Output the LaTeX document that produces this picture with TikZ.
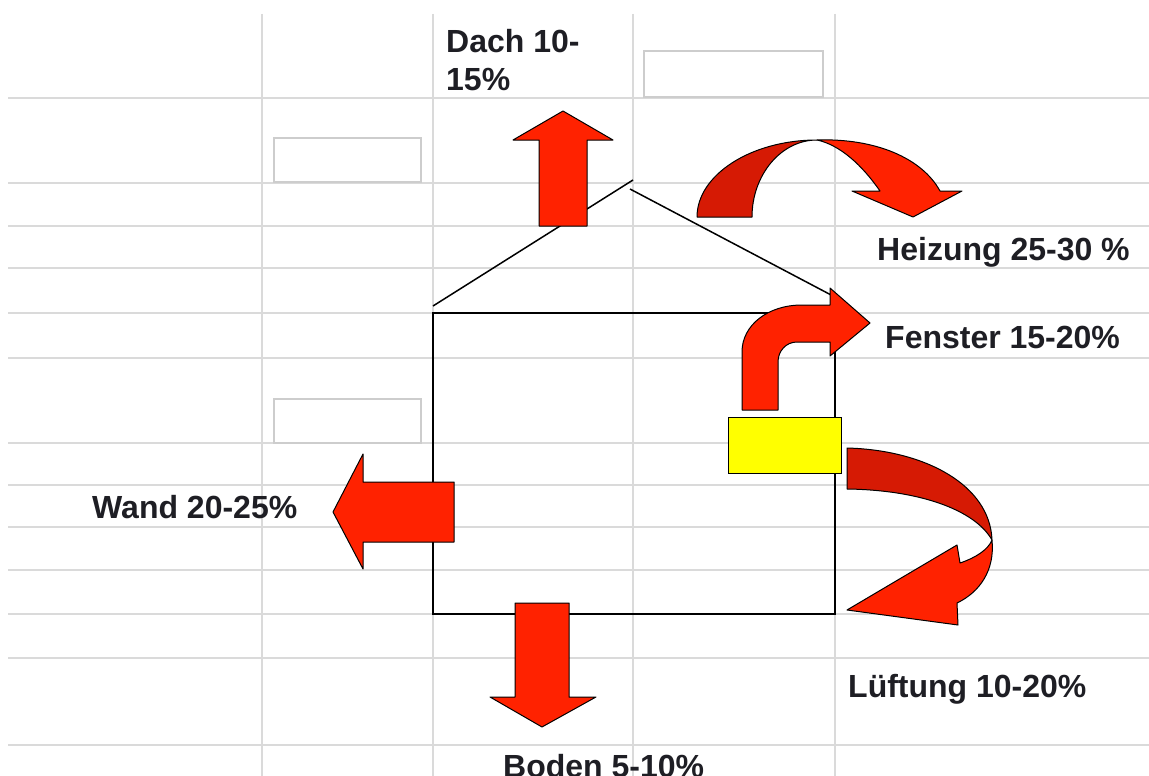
\documentclass[tikz,border=0pt]{standalone}
\usepackage{fontspec}
\setmainfont{Liberation Sans}
\definecolor{gridgray}{RGB}{218,218,218}
\definecolor{boxgray}{RGB}{205,205,205}
\definecolor{arrowred}{RGB}{255,34,0}
\definecolor{arrowdark}{RGB}{214,26,4}
\definecolor{textdark}{RGB}{30,30,36}
\definecolor{heateryellow}{RGB}{255,255,0}
\tikzset{
  gridline/.style={draw=gridgray, line width=1.3pt},
  housewall/.style={draw=black, line width=1.8pt},
  emptybox/.style={draw=boxgray, line width=2.4pt, fill=white, anchor=north west, inner sep=0pt},
  bigarrow/.style={fill=arrowred, draw=black, line width=1pt, line join=round},
  shadearrow/.style={fill=arrowdark, draw=black, line width=1pt, line join=round},
  losstext/.style={font=\fontsize{32}{37}\selectfont\bfseries, text=textdark, inner sep=0pt, anchor=base west}
}
\begin{document}
\begin{tikzpicture}[x=1pt,y=-1pt]
\useasboundingbox (0,0) rectangle (1149,776);
\fill[white] (0,0) rectangle (1149,776);
% spreadsheet grid
\foreach \yy in {98,183,226,268,313,358,443,485,527,570,614,658,745}
  \draw[gridline] (8,\yy) -- (1149,\yy);
\foreach \xx in {262,433,633,835}
  \draw[gridline] (\xx,14) -- (\xx,776);
% empty cells
\node[emptybox, minimum width=179pt, minimum height=46pt] (box1) at (643,50) {};
\node[emptybox, minimum width=147pt, minimum height=44pt] (box2) at (273,137) {};
\node[emptybox, minimum width=147pt, minimum height=44pt] (box3) at (273,398) {};
% house
\draw[housewall] (433,313) rectangle (835,614);
\draw[housewall, line width=1.5pt] (433,306) -- (633,180);
\draw[housewall, line width=1.5pt] (630,189) -- (833,296);
% heater
\node[draw=black, fill=heateryellow, line width=1.2pt, anchor=north west, inner sep=0pt,
      minimum width=113pt, minimum height=56pt] (heater) at (728,417) {};
% Dach arrow (up)
\draw[bigarrow] (539,226) -- (539,140) -- (513,140) -- (563,111) -- (613,140) -- (587,140) -- (587,226) -- cycle;
% Wand arrow (left)
\draw[bigarrow] (454,482) -- (363,482) -- (363,454) -- (333,512) -- (363,569) -- (363,542) -- (454,542) -- cycle;
% Boden arrow (down)
\draw[bigarrow] (515,603) -- (569,603) -- (569,697) -- (596,697) -- (542,727) -- (490,697) -- (515,697) -- cycle;
% Fenster arrow (bent up-right)
\draw[bigarrow] (742,410) -- (742,352) .. controls (742,325) and (768,305) .. (802,305)
  -- (830,305) -- (830,288) -- (870,323) -- (830,356) -- (830,342) -- (797,342)
  .. controls (786,342) and (778,351) .. (778,362) -- (778,410) -- cycle;
% Heizung arrow (curved over)
\draw[shadearrow] (697,217) .. controls (697,175) and (751,140) .. (817,140)
  .. controls (781,140) and (752,175) .. (752,217) -- cycle;
\draw[bigarrow] (817,140) .. controls (875,138) and (922,158) .. (940,191)
  -- (962,191) -- (913,217) -- (852,191) -- (880,191)
  .. controls (862,165) and (840,145) .. (817,140) -- cycle;
% Lueftung arrow (curved around)
\draw[shadearrow] (847,448) .. controls (925,450) and (990,485) .. (992,540)
  .. controls (975,510) and (920,490) .. (847,489) -- cycle;
\draw[bigarrow] (992,540) .. controls (995,570) and (980,592) .. (957,603)
  -- (958,625) -- (847,610) -- (957,545) -- (960,563)
  .. controls (975,558) and (988,550) .. (992,540) -- cycle;
% labels
\node[losstext] (dach1) at (446,53) {Dach 10-};
\node[losstext] (dach2) at (446,90) {15\%};
\node[losstext] (heizung) at (877,260) {Heizung 25-30 \%};
\node[losstext] (fenster) at (885,348) {Fenster 15-20\%};
\node[losstext] (wand) at (92,518) {Wand 20-25\%};
\node[losstext] (lueftung) at (848,697) {Lüftung 10-20\%};
\node[losstext] (boden) at (503,777) {Boden 5-10\%};
\end{tikzpicture}
\end{document}
